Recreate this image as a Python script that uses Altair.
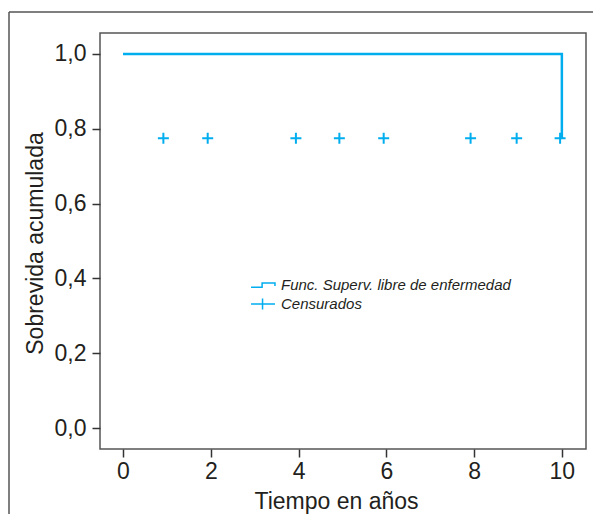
import altair as alt
import pandas as pd

# Kaplan-Meier step (time in years, cumulative survival)
step_times = [0, 10]
step_surv = [1.0, 0.775]

# Censored observations
cens_times = [0.92, 1.93, 3.94, 4.93, 5.94, 7.92, 8.97, 9.96]
cens_surv = [0.775] * len(cens_times)

series = ["Func. Superv. libre de enfermedad", "Censurados"]
x_ticks = [0, 2, 4, 6, 8, 10]
y_ticks = [0.0, 0.2, 0.4, 0.6, 0.8, 1.0]

CYAN = "#00AEEF"
TEXT = "#231F20"
FRAME = "#555555"
FONT = "Liberation Sans"

step_df = pd.DataFrame({"t": step_times, "s": step_surv})
cens_df = pd.DataFrame({"t": cens_times, "s": cens_surv})
leg_df = pd.DataFrame({"serie": series})
one = pd.DataFrame({"k": [0]})

xscale = alt.Scale(domain=[-0.524, 10.55], nice=False, zero=False)
yscale = alt.Scale(domain=[-0.0561, 1.0561], nice=False, zero=False)

xaxis = alt.Axis(values=x_ticks, title="Tiempo en años", labelPadding=3,
                 labelFlush=False, titleX=236, titleY=59,
                 titleBaseline="alphabetic", titleAlign="center")
yaxis = alt.Axis(values=y_ticks, title="Sobrevida acumulada", labelPadding=6,
                 labelExpr="replace(format(datum.value, '.1f'), '.', ',')",
                 titleX=-58, titleY=210, titleAngle=270,
                 titleBaseline="alphabetic", titleAlign="center")

line = alt.Chart(step_df).mark_line(interpolate="step-after", color=CYAN,
                                    strokeWidth=2.5).encode(
    x=alt.X("t:Q", scale=xscale, axis=xaxis),
    y=alt.Y("s:Q", scale=yscale, axis=yaxis),
)

points = alt.Chart(cens_df).mark_point(
    shape="M-1,0H1M0,-1V1", size=121, filled=False, strokeWidth=2,
    color=CYAN, opacity=1,
).encode(
    x=alt.X("t:Q", scale=xscale),
    y=alt.Y("s:Q", scale=yscale),
)

legend_layer = alt.Chart(leg_df).mark_point(filled=False, opacity=0).encode(
    shape=alt.Shape(
        "serie:N",
        scale=alt.Scale(
            domain=series,
            range=["M-1.33,0.25H-0.1V-0.22H1.33V0.12",
                   "M-1.33,0H1.33M-0.05,-0.6V0.6"],
        ),
        legend=alt.Legend(
            title=None, orient="none", legendX=153, legendY=242,
            padding=0, offset=0, symbolSize=324, symbolStrokeWidth=1.5,
            symbolStrokeColor=CYAN, symbolFillColor="transparent",
            symbolOpacity=1, labelFont=FONT, labelFontSize=15,
            labelFontStyle="italic", labelColor=TEXT, labelOffset=8,
            rowPadding=1, labelLimit=400,
        ),
    ),
    x=alt.value(0), y=alt.value(0),
)

border_top = alt.Chart(one).mark_rule(color=FRAME, strokeWidth=1.5).encode(
    x=alt.value(-91), x2=alt.value(700), y=alt.value(-21), y2=alt.value(-21))
border_left = alt.Chart(one).mark_rule(color=FRAME, strokeWidth=1.5).encode(
    x=alt.value(-91), x2=alt.value(-91), y=alt.value(-21), y2=alt.value(700))

chart = alt.layer(border_top, border_left, line, points, legend_layer).properties(
    width=486, height=416,
    autosize=alt.AutoSizeParams(type="none"),
    padding={"left": 92, "top": 25, "right": 7, "bottom": 65},
    background="white",
).configure_view(
    stroke=FRAME, strokeWidth=1.5,
).configure_axis(
    domain=False, grid=False, tickColor="#333333", tickWidth=1.5, tickSize=8,
    labelFont=FONT, labelFontSize=23, labelColor=TEXT,
    titleFont=FONT, titleFontSize=23, titleFontWeight="normal", titleColor=TEXT,
)

chart.save("out.html", embed_options={"renderer": "svg", "actions": False})
